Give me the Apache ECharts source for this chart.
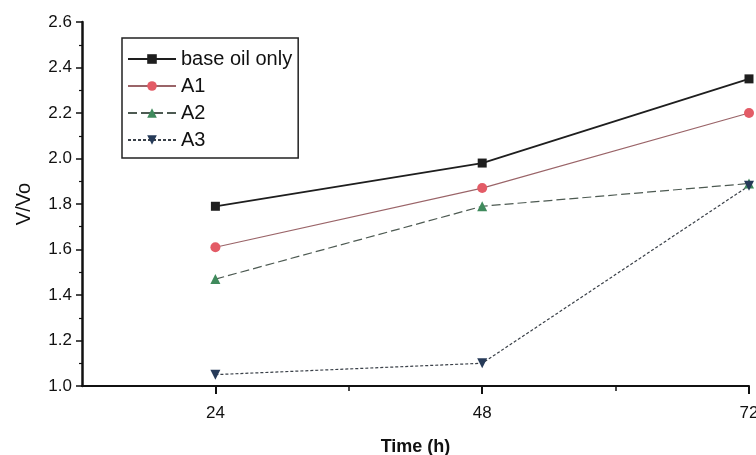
<!DOCTYPE html>
<html>
<head>
<meta charset="utf-8">
<script src="https://cdn.jsdelivr.net/npm/echarts@6/dist/echarts.min.js"></script>
<style>
html,body{margin:0;padding:0;background:#fff;}
#chart{width:756px;height:455px;}
</style>
</head>
<body>
<div id="chart"></div>
<script>
const times = [24, 48, 72];
const baseOil = [1.79, 1.98, 2.35];
const a1 = [1.61, 1.87, 2.20];
const a2 = [1.47, 1.79, 1.89];
const a3 = [1.05, 1.10, 1.88];
const seriesNames = ['base oil only', 'A1', 'A2', 'A3'];
const majorXTicks = [24, 48, 72];
const minorXTicks = [36, 60];

const pair = vals => times.map((t, i) => [t, vals[i]]);
const font = 'Liberation Sans, Arial, sans-serif';

const chart = echarts.init(document.getElementById('chart'), null, {renderer: 'canvas'});
chart.setOption({
  animation: false,
  backgroundColor: '#ffffff',
  grid: {left: 82, right: 7, top: 22, bottom: 69, containLabel: false, outerBoundsMode: 'none'},
  legend: {
    left: 122, top: 38, orient: 'vertical',
    data: seriesNames,
    itemWidth: 48, itemHeight: 12, itemGap: 7,
    padding: [11, 6, 8, 5],
    borderColor: '#222', borderWidth: 1.5,
    textStyle: {fontFamily: font, fontSize: 20, color: '#111', lineHeight: 20}
  },
  xAxis: [{
    type: 'value', min: 12, max: 72, interval: 12,
    axisLine: {show: true, onZero: false, lineStyle: {color: '#111', width: 2}},
    axisTick: {show: true, customValues: majorXTicks, length: 8, lineStyle: {color: '#111', width: 2}},
    axisLabel: {customValues: majorXTicks, margin: 19, fontFamily: font, fontSize: 17, color: '#111'},
    splitLine: {show: false},
    name: 'Time (h)', nameLocation: 'middle', nameGap: 52,
    nameTextStyle: {fontFamily: font, fontSize: 18, fontWeight: 'bold', color: '#111'}
  }, {
    type: 'value', min: 12, max: 72, interval: 12, position: 'bottom',
    axisLine: {show: false},
    axisTick: {show: true, customValues: minorXTicks, length: 5, lineStyle: {color: '#111', width: 1.5}},
    axisLabel: {show: false},
    splitLine: {show: false}
  }],
  yAxis: {
    type: 'value', min: 1.0, max: 2.6, interval: 0.2,
    axisLine: {show: true, onZero: false, lineStyle: {color: '#111', width: 2.5}},
    axisTick: {show: true, length: 6, lineStyle: {color: '#111', width: 1.5}},
    minorTick: {show: true, splitNumber: 2, length: 3, lineStyle: {color: '#111', width: 1.2}},
    axisLabel: {margin: 10, fontFamily: font, fontSize: 17, color: '#111', formatter: v => v.toFixed(1)},
    splitLine: {show: false},
    name: 'V/Vo', nameLocation: 'middle', nameGap: 48,
    nameTextStyle: {fontFamily: font, fontSize: 20, color: '#111'}
  },
  series: [
    {name: seriesNames[0], type: 'line', data: pair(baseOil), symbol: 'rect', symbolSize: 9,
     itemStyle: {color: '#1e1e1e'}, lineStyle: {color: '#1e1e1e', width: 1.8}},
    {name: seriesNames[1], type: 'line', data: pair(a1), symbol: 'circle', symbolSize: 10,
     itemStyle: {color: '#e35b66'}, lineStyle: {color: '#9a6468', width: 1.2}},
    {name: seriesNames[2], type: 'line', data: pair(a2), symbol: 'triangle', symbolSize: 10,
     itemStyle: {color: '#3f8a5c'}, lineStyle: {color: '#4d5a52', width: 1.2, type: [9, 4]}},
    {name: seriesNames[3], type: 'line', data: pair(a3), symbol: 'triangle', symbolRotate: 180, symbolSize: 10,
     itemStyle: {color: '#263a58'}, lineStyle: {color: '#3a4048', width: 1.2, type: [3, 2]}}
  ]
});
</script>
</body>
</html>
